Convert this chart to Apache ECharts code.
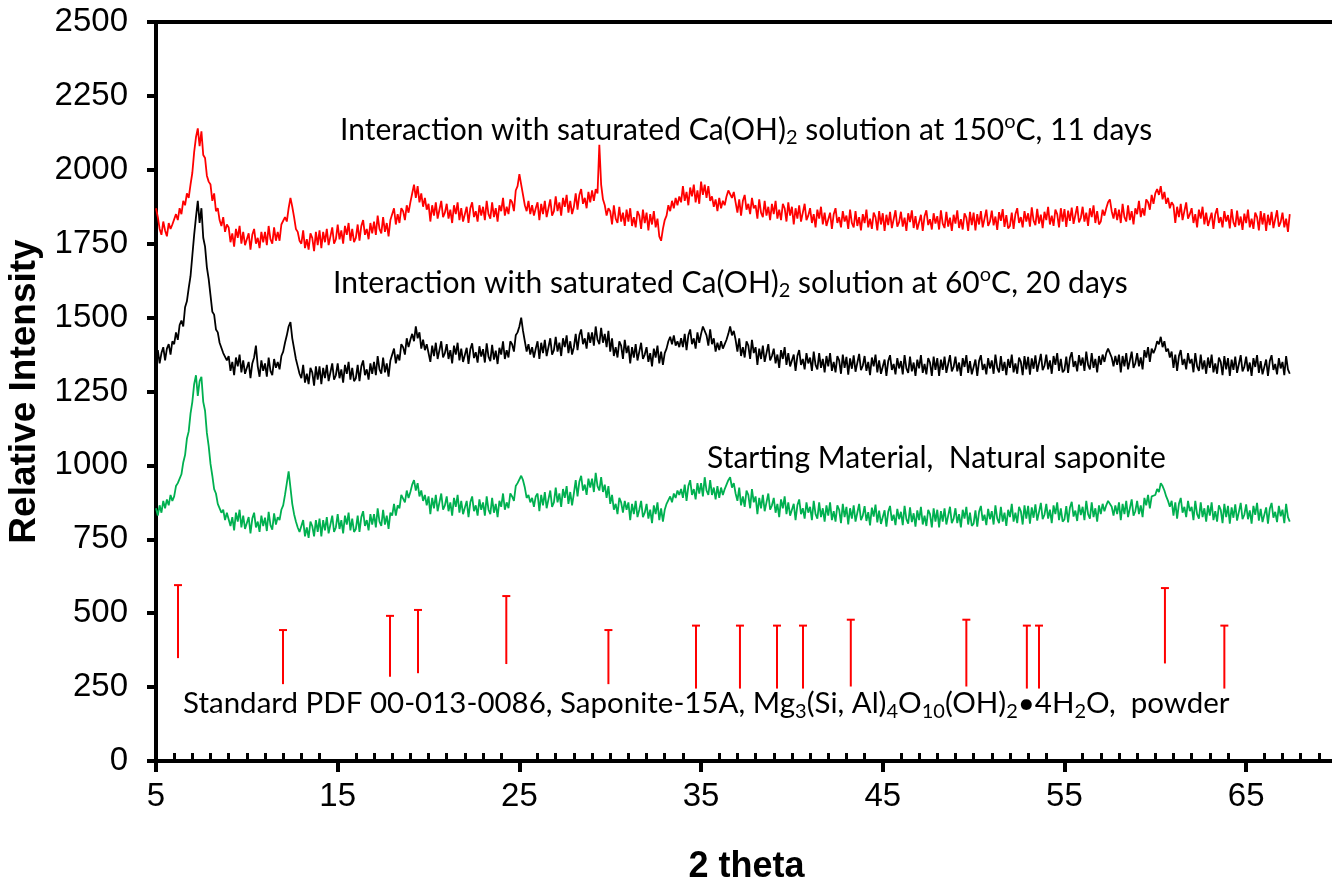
<!DOCTYPE html>
<html>
<head>
<meta charset="utf-8">
<script src="https://cdn.jsdelivr.net/npm/echarts@6/dist/echarts.min.js"></script>
<style>
html,body{margin:0;padding:0;background:#fff;}
#chart{width:1332px;height:883px;}
</style>
</head>
<body>
<div id="chart"></div>
<script>
// sampling grid of the scans (2 theta, degrees)
const thetaStart = 5.0;
const thetaStep = 0.1;

// Interaction with saturated Ca(OH)2 at 150 C, 11 days (red)
const red150 = [
1870,1840,1800,1780,1825,1795,1775,1820,1800,1815,
1815,1850,1830,1870,1850,1895,1880,1920,1905,1950,
1990,2060,2110,2140,2080,2130,2050,2040,1980,1960,
1950,1895,1920,1860,1870,1830,1810,1840,1790,1815,
1805,1755,1785,1740,1800,1770,1810,1750,1790,1745,
1740,1785,1730,1780,1800,1750,1770,1735,1790,1755,
1790,1745,1810,1765,1750,1805,1760,1790,1760,1815,
1810,1840,1825,1870,1905,1875,1840,1800,1790,1760,
1750,1795,1735,1765,1730,1785,1770,1725,1790,1745,
1795,1735,1790,1755,1800,1745,1775,1805,1750,1765,
1815,1765,1795,1750,1810,1780,1820,1760,1800,1755,
1770,1815,1760,1810,1830,1780,1800,1765,1820,1785,
1825,1780,1845,1800,1785,1840,1790,1820,1775,1830,
1825,1870,1815,1850,1820,1870,1860,1830,1880,1855,
1890,1920,1950,1905,1945,1890,1920,1875,1905,1865,
1885,1825,1880,1845,1890,1835,1865,1895,1840,1855,
1885,1835,1865,1820,1880,1850,1890,1830,1870,1825,
1830,1875,1820,1870,1890,1840,1860,1825,1880,1845,
1875,1830,1895,1850,1835,1890,1840,1870,1825,1880,
1860,1905,1845,1875,1850,1900,1890,1860,1930,1945,
1985,1950,1915,1880,1860,1895,1850,1880,1845,1870,
1890,1830,1885,1850,1895,1840,1870,1900,1845,1860,
1910,1860,1890,1845,1905,1875,1915,1855,1895,1850,
1875,1920,1865,1915,1935,1885,1905,1870,1925,1890,
1930,1895,1935,1920,2085,1950,1900,1880,1845,1870,
1860,1815,1880,1835,1820,1875,1825,1855,1810,1865,
1825,1870,1810,1840,1805,1860,1845,1800,1865,1820,
1855,1795,1850,1815,1860,1805,1835,1775,1760,1800,
1830,1845,1880,1860,1895,1870,1905,1880,1910,1890,
1945,1895,1925,1880,1940,1910,1950,1890,1930,1885,
1960,1915,1950,1905,1945,1895,1910,1875,1900,1860,
1905,1870,1895,1880,1910,1930,1935,1905,1925,1890,
1855,1900,1845,1895,1915,1865,1885,1850,1905,1870,
1880,1835,1900,1855,1840,1895,1845,1875,1830,1885,
1850,1895,1835,1865,1830,1885,1870,1825,1890,1845,
1875,1815,1870,1835,1880,1825,1855,1885,1830,1845,
1870,1820,1850,1805,1865,1835,1875,1815,1855,1810,
1810,1855,1800,1850,1870,1820,1840,1805,1860,1825,
1845,1800,1865,1820,1805,1860,1810,1840,1795,1850,
1820,1865,1805,1835,1800,1855,1840,1795,1860,1815,
1853,1793,1848,1813,1858,1803,1833,1863,1808,1823,
1858,1808,1838,1793,1853,1823,1863,1803,1843,1798,
1803,1848,1793,1843,1863,1813,1833,1798,1853,1818,
1843,1798,1863,1818,1803,1858,1808,1838,1793,1848,
1818,1863,1803,1833,1798,1853,1838,1793,1858,1813,
1855,1795,1850,1815,1860,1805,1835,1865,1810,1825,
1862,1812,1842,1797,1857,1827,1867,1807,1847,1802,
1810,1855,1800,1850,1870,1820,1840,1805,1860,1825,
1853,1808,1873,1828,1813,1868,1818,1848,1803,1858,
1830,1875,1815,1845,1810,1865,1850,1805,1870,1825,
1867,1807,1862,1827,1872,1817,1847,1877,1822,1837,
1875,1825,1855,1810,1870,1840,1880,1820,1860,1815,
1825,1865,1845,1870,1890,1900,1860,1835,1870,1830,
1865,1820,1885,1840,1825,1880,1830,1860,1815,1870,
1850,1895,1840,1870,1845,1900,1890,1865,1915,1885,
1920,1935,1915,1945,1900,1925,1885,1905,1870,1890,
1880,1820,1875,1840,1885,1830,1860,1890,1835,1850,
1870,1820,1850,1805,1865,1835,1875,1815,1855,1810,
1810,1855,1800,1850,1870,1820,1840,1805,1860,1825,
1847,1802,1867,1822,1807,1862,1812,1842,1797,1852,
1820,1865,1805,1835,1800,1855,1840,1795,1860,1815,
1853,1793,1848,1813,1858,1803,1833,1863,1808,1823,
1855,1805,1835,1790,1850
];

// Interaction with saturated Ca(OH)2 at 60 C, 20 days (black)
const black60 = [
1360,1390,1345,1380,1400,1355,1395,1410,1375,1420,
1410,1450,1425,1475,1490,1470,1535,1555,1600,1640,
1710,1780,1840,1895,1820,1870,1770,1740,1670,1630,
1575,1520,1510,1460,1450,1415,1410,1380,1385,1355,
1370,1320,1350,1305,1365,1335,1375,1315,1355,1310,
1305,1350,1295,1345,1365,1405,1335,1300,1355,1320,
1345,1300,1365,1320,1305,1360,1330,1350,1325,1370,
1385,1415,1440,1470,1485,1430,1395,1360,1335,1310,
1295,1340,1280,1310,1275,1330,1315,1270,1335,1290,
1335,1275,1330,1295,1340,1285,1315,1345,1290,1305,
1345,1295,1325,1280,1340,1310,1350,1290,1330,1285,
1295,1340,1285,1335,1355,1305,1325,1290,1345,1310,
1350,1305,1370,1325,1310,1365,1315,1345,1300,1355,
1350,1395,1345,1375,1355,1410,1400,1375,1430,1400,
1425,1445,1420,1470,1430,1450,1395,1425,1390,1410,
1410,1350,1405,1370,1415,1360,1390,1420,1365,1380,
1410,1360,1390,1345,1405,1375,1415,1355,1395,1350,
1353,1398,1343,1393,1413,1363,1383,1348,1403,1368,
1393,1348,1413,1368,1353,1408,1358,1388,1343,1398,
1375,1420,1360,1390,1365,1420,1410,1385,1440,1450,
1470,1500,1455,1420,1385,1410,1375,1400,1365,1395,
1420,1360,1415,1380,1425,1370,1400,1430,1375,1390,
1435,1385,1415,1370,1430,1400,1440,1380,1420,1375,
1400,1445,1390,1440,1460,1410,1430,1395,1450,1415,
1450,1405,1470,1425,1410,1465,1415,1445,1400,1455,
1385,1430,1370,1400,1365,1420,1405,1360,1425,1380,
1405,1345,1400,1365,1410,1355,1385,1415,1360,1375,
1400,1350,1380,1335,1395,1365,1405,1345,1385,1340,
1380,1395,1420,1435,1410,1440,1405,1420,1400,1430,
1400,1445,1390,1440,1460,1410,1430,1395,1450,1415,
1445,1470,1465,1440,1405,1460,1410,1430,1385,1415,
1390,1420,1395,1410,1425,1445,1470,1440,1455,1425,
1385,1430,1370,1400,1365,1420,1405,1360,1425,1380,
1400,1340,1395,1360,1405,1350,1380,1410,1355,1370,
1395,1345,1375,1330,1390,1360,1400,1340,1380,1335,
1330,1375,1320,1370,1390,1340,1360,1325,1380,1345,
1365,1320,1385,1340,1325,1380,1330,1360,1315,1370,
1335,1380,1320,1350,1315,1370,1355,1310,1375,1330,
1367,1307,1362,1327,1372,1317,1347,1377,1322,1337,
1370,1320,1350,1305,1365,1335,1375,1315,1355,1310,
1313,1358,1303,1353,1373,1323,1343,1308,1363,1328,
1353,1308,1373,1328,1313,1368,1318,1348,1303,1358,
1328,1373,1313,1343,1308,1363,1348,1303,1368,1323,
1363,1303,1358,1323,1368,1313,1343,1373,1318,1333,
1368,1318,1348,1303,1363,1333,1373,1313,1353,1308,
1313,1358,1303,1353,1373,1323,1343,1308,1363,1328,
1355,1310,1375,1330,1315,1370,1320,1350,1305,1360,
1330,1375,1315,1345,1310,1365,1350,1305,1370,1325,
1367,1307,1362,1327,1372,1317,1347,1377,1322,1337,
1375,1325,1355,1310,1370,1340,1380,1320,1360,1315,
1323,1368,1313,1363,1383,1333,1353,1318,1373,1338,
1365,1320,1385,1340,1325,1380,1330,1360,1315,1370,
1340,1375,1350,1380,1395,1390,1365,1335,1370,1340,
1375,1315,1370,1335,1380,1325,1355,1385,1330,1345,
1380,1335,1365,1325,1390,1365,1400,1350,1395,1380,
1395,1420,1410,1435,1400,1420,1385,1395,1365,1385,
1330,1375,1320,1370,1390,1340,1360,1325,1380,1345,
1360,1315,1380,1335,1320,1375,1325,1355,1310,1365,
1330,1375,1315,1345,1310,1365,1350,1305,1370,1325,
1363,1303,1358,1323,1368,1313,1343,1373,1318,1333,
1368,1318,1348,1303,1363,1333,1373,1313,1353,1308,
1313,1358,1303,1353,1373,1323,1343,1308,1363,1328,
1350,1305,1370,1325,1310
];

// Starting material, natural saponite (green)
const greenStart = [
855,830,865,840,880,855,885,865,900,880,
895,930,940,945,970,1010,1035,1090,1115,1175,
1215,1275,1305,1235,1285,1300,1215,1185,1110,1065,
1005,965,920,905,870,870,840,850,815,840,
845,795,825,780,840,810,850,790,830,785,
780,825,770,820,840,790,810,775,830,795,
823,778,843,798,783,838,800,825,815,850,
865,900,940,980,925,870,835,810,790,775,
775,815,760,790,755,810,795,760,815,775,
820,760,815,780,825,770,800,830,775,790,
835,785,815,770,830,800,840,780,820,775,
785,830,775,825,845,795,815,780,835,800,
835,790,855,810,795,850,800,830,785,840,
830,870,830,865,855,900,900,875,915,890,
910,935,950,915,940,895,915,880,900,865,
895,835,890,855,900,845,875,905,850,865,
895,845,875,830,890,860,900,840,880,835,
835,880,825,875,895,845,865,830,885,850,
875,830,895,850,835,890,840,870,825,880,
860,905,850,875,855,905,895,880,930,940,
945,965,950,925,890,900,875,890,860,895,
905,845,900,865,910,855,885,915,860,875,
925,875,905,860,920,890,930,870,910,865,
905,950,895,945,965,915,935,900,955,925,
955,910,975,930,915,960,910,935,890,930,
870,900,850,870,835,890,875,840,880,850,
875,815,870,835,880,825,850,880,825,840,
870,820,850,805,865,835,875,815,855,810,
850,870,865,895,875,905,890,915,900,920,
890,935,880,930,950,900,920,885,940,905,
940,895,960,915,900,950,900,925,885,930,
890,925,900,920,935,950,960,925,940,905,
880,925,865,895,860,915,900,855,920,875,
895,835,890,855,900,845,875,905,850,865,
890,840,870,825,885,855,895,835,875,830,
825,870,815,865,885,835,855,820,875,840,
860,815,880,835,820,875,825,855,810,865,
830,875,815,845,810,865,850,805,870,825,
860,800,855,820,865,810,840,870,815,830,
862,812,842,797,857,827,867,807,847,802,
803,848,793,843,863,813,833,798,853,818,
843,798,863,818,803,858,808,838,793,848,
815,860,800,830,795,850,835,790,855,810,
850,790,845,810,855,800,830,860,805,820,
855,805,835,790,850,820,860,800,840,795,
803,848,793,843,863,813,833,798,853,818,
845,800,865,820,805,860,810,840,795,850,
825,870,810,840,805,860,845,800,865,820,
863,803,858,823,868,813,843,873,818,833,
870,820,850,805,865,835,875,815,855,810,
817,862,807,857,877,827,847,812,867,832,
860,815,880,835,820,875,825,855,810,865,
835,870,845,865,880,875,860,830,865,835,
875,815,870,835,880,825,855,885,830,845,
880,835,865,825,890,865,900,855,895,890,
900,920,910,940,930,915,895,880,860,880,
830,875,820,870,890,840,860,825,880,845,
860,815,880,835,820,875,825,855,810,865,
830,875,815,845,810,865,850,805,870,825,
863,803,858,823,868,813,843,873,818,833,
868,818,848,803,863,833,873,813,853,808,
813,858,803,853,873,823,843,808,863,828,
850,805,870,825,810
];

// Standard PDF 00-013-0086 reference lines (position, lower end, upper end)
const stickTheta = [6.21, 11.99, 17.88, 19.42, 24.28, 29.9, 34.72, 37.14, 39.18, 40.61, 43.24, 49.6, 52.93, 53.6, 60.53, 63.8];
const stickLow   = [348, 260, 285, 297, 328, 260, 245, 245, 245, 245, 252, 252, 245, 245, 330, 245];
const stickHigh  = [595, 443, 491, 511, 558, 443, 458, 458, 458, 458, 478, 478, 458, 458, 585, 458];

// annotation texts with their anchor (left edge, vertical middle) in data units
const labelTexts = [
  'Interaction with saturated Ca(OH){sub|2} solution at 150{sup|o}C, 11 days',
  'Interaction with saturated Ca(OH){sub|2} solution at 60{sup|o}C, 20 days',
  'Starting Material,  Natural saponite',
  'Standard PDF 00-013-0086, Saponite-15A, Mg{sub|3}(Si, Al){sub|4}O{sub|10}(OH){sub|2}\u20224H{sub|2}O,  powder'
];
const labelTheta = [15.13, 14.74, 35.33, 6.49];
const labelIntensity = [2135, 1617, 1025, 196];

const yTicks = [0, 250, 500, 750, 1000, 1250, 1500, 1750, 2000, 2250, 2500];
const xTicks = [5, 15, 25, 35, 45, 55, 65];

function toPairs(vals) {
  return vals.map((v, i) => [+(thetaStart + i * thetaStep).toFixed(2), v]);
}

const chart = echarts.init(document.getElementById('chart'), null, {renderer: 'canvas'});

const axisFont = 'Liberation Sans, Arial, sans-serif';
const noteFont = 'Lato, "Open Sans", sans-serif';

chart.setOption({
  animation: false,
  backgroundColor: '#ffffff',
  grid: {
    left: 156, top: 22, width: 1181, height: 739,
    outerBoundsMode: 'none', containLabel: false,
    show: true, borderColor: '#000', borderWidth: 4, backgroundColor: 'transparent'
  },
  xAxis: {
    type: 'value', min: 5, max: 70, interval: 10,
    name: '2 theta', nameLocation: 'middle', nameGap: 88,
    nameTextStyle: {fontFamily: axisFont, fontWeight: 'bold', fontSize: 36, color: '#000'},
    axisLine: {show: true, onZero: false, lineStyle: {color: '#000', width: 4}},
    axisTick: {show: true, inside: false, length: 11, lineStyle: {color: '#000', width: 4}},
    minorTick: {show: true, splitNumber: 10, length: -8, lineStyle: {color: '#000', width: 3}},
    splitLine: {show: false},
    axisLabel: {
      margin: 19, fontFamily: axisFont, fontSize: 33, color: '#000',
      formatter: v => (xTicks.indexOf(v) >= 0 ? String(v) : '')
    }
  },
  yAxis: {
    type: 'value', min: 0, max: 2500, interval: 250,
    name: 'Relative Intensity', nameLocation: 'middle', nameGap: 108, nameRotate: 90,
    nameTextStyle: {fontFamily: axisFont, fontWeight: 'bold', fontSize: 37, color: '#000'},
    axisLine: {show: true, onZero: false, lineStyle: {color: '#000', width: 4}},
    axisTick: {show: true, inside: false, length: 9, lineStyle: {color: '#000', width: 4}},
    splitLine: {show: false},
    axisLabel: {
      margin: 28, fontFamily: axisFont, fontSize: 33, color: '#000',
      formatter: v => (yTicks.indexOf(v) >= 0 ? String(v) : '')
    }
  },
  series: [
    {
      type: 'line', name: 'Starting material', data: toPairs(greenStart),
      showSymbol: false, symbol: 'none', lineStyle: {color: '#00B050', width: 1.8}, z: 3
    },
    {
      type: 'line', name: '60C 20 days', data: toPairs(black60),
      showSymbol: false, symbol: 'none', lineStyle: {color: '#000000', width: 1.8}, z: 3
    },
    {
      type: 'line', name: '150C 11 days', data: toPairs(red150),
      showSymbol: false, symbol: 'none', lineStyle: {color: '#FF0000', width: 1.8}, z: 3
    },
    {
      type: 'custom', name: 'PDF 00-013-0086',
      data: stickTheta.map((t, i) => [t, stickLow[i], stickHigh[i]]),
      encode: {x: 0, y: [1, 2]},
      renderItem: function (params, api) {
        const lo = api.coord([api.value(0), api.value(1)]);
        const hi = api.coord([api.value(0), api.value(2)]);
        return {
          type: 'group',
          children: [
            {type: 'line', shape: {x1: lo[0], y1: lo[1], x2: hi[0], y2: hi[1]}, style: {stroke: '#FF0000', lineWidth: 2}},
            {type: 'line', shape: {x1: hi[0] - 4, y1: hi[1], x2: hi[0] + 4, y2: hi[1]}, style: {stroke: '#FF0000', lineWidth: 2}}
          ]
        };
      },
      z: 4
    }
  ]
});

const noteSizes = [30, 30, 30, 29.5];

function wrap(t) {
  return t.split(/(\{(?:sub|sup)\|[^}]*\})/).map(p => (p.startsWith('{') ? p : (p ? '{n|' + p + '}' : ''))).join('');
}

const graphics = labelTexts.map((t, i) => {
  const p = chart.convertToPixel({gridIndex: 0}, [labelTheta[i], labelIntensity[i]]);
  const fs = noteSizes[i];
  const rich = {
    n: {fontFamily: noteFont, fontSize: fs, lineHeight: 36, color: '#000'},
    sub: {fontFamily: noteFont, fontSize: 20, lineHeight: 18, verticalAlign: 'bottom', color: '#000'},
    sup: {fontFamily: noteFont, fontSize: 20, lineHeight: 18, verticalAlign: 'top', color: '#000'}
  };
  return {
    type: 'text', x: p[0], y: p[1], z: 10,
    style: {text: wrap(t), rich: rich, align: 'left', verticalAlign: 'middle', fill: '#000', font: fs + 'px ' + noteFont}
  };
});
chart.setOption({graphic: graphics});
</script>
</body>
</html>
